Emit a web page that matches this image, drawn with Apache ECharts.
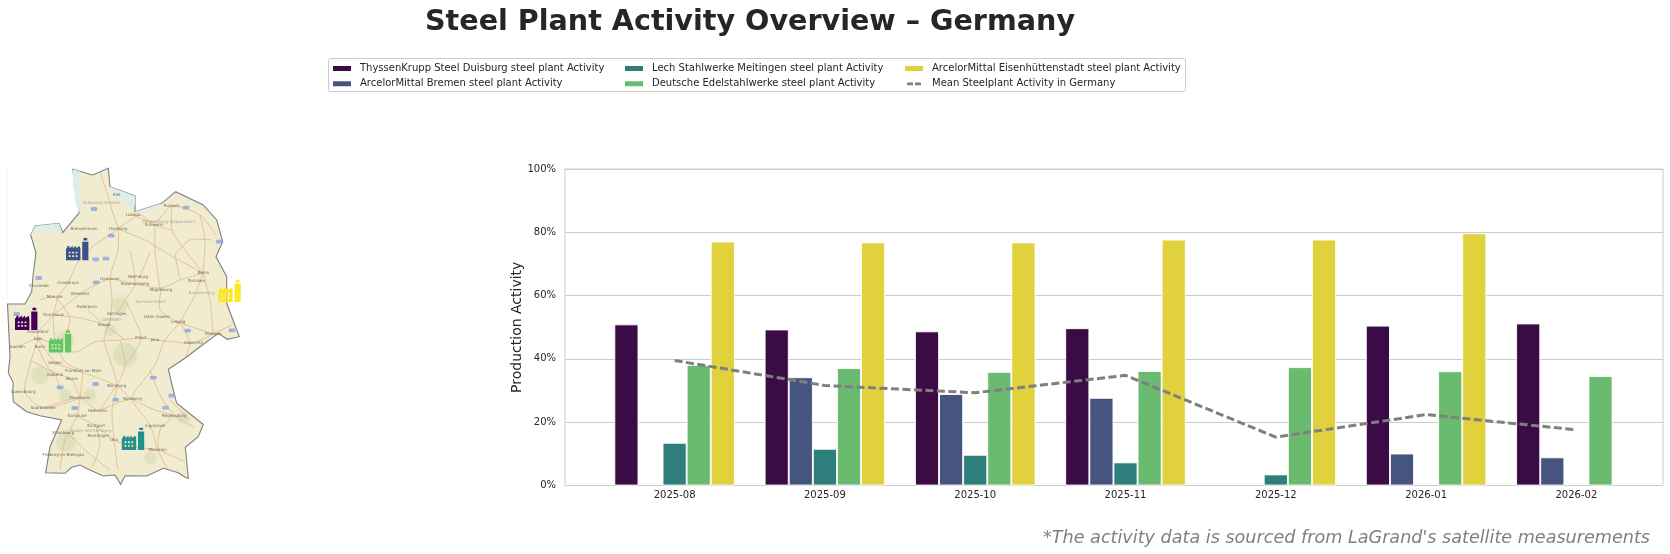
<!DOCTYPE html>
<html>
<head>
<meta charset="utf-8">
<style>html,body{margin:0;padding:0;background:#fff}#c{width:1670px;height:554px}</style>
<script src="https://cdn.jsdelivr.net/npm/echarts@6/dist/echarts.min.js"></script>
</head>
<body>
<div id="c"></div>
<script>
const months = ['2025-08','2025-09','2025-10','2025-11','2025-12','2026-01','2026-02'];
const duisburg = [50.9,49.3,48.7,49.7,null,50.5,51.2];
const bremen = [null,34.2,28.9,27.7,null,10.1,8.9];
const lech = [13.5,11.6,9.7,7.3,3.5,null,null];
const edelstahl = [38.1,37.1,35.9,36.2,37.4,36.1,34.6];
const eisen = [77.1,76.8,76.8,77.7,77.7,79.7,null];
const meanActivity = [39.5,31.6,29.3,34.8,15.3,22.4,17.6];

const plantNames = ['ThyssenKrupp Steel Duisburg steel plant Activity','ArcelorMittal Bremen steel plant Activity','Lech Stahlwerke Meitingen steel plant Activity','Deutsche Edelstahlwerke steel plant Activity','ArcelorMittal Eisenhüttenstadt steel plant Activity'];
const meanName = 'Mean Steelplant Activity in Germany';
const barColors = ['#3b0b45','#46557f','#2e7f7b','#6abb6f','#e1d13c'];
const iconColors = ['#440154','#3b528b','#21918c','#5ec962','#fde725'];

// map sheet, in units of the map panel
const plantSites = [[26.2,318.8],[77.2,249],[133,438.7],[60,341.3],[229.5,290.8]];
const outline = [[72.7,169.3],[92.7,175],[108.3,168.3],[110,186.7],[135,196],[135,211.7],[161.7,203.3],[175.7,191.7],[203.3,205],[216.7,220],[222.7,241.7],[216,256.7],[226.7,276.7],[226.7,303.3],[231.7,316.7],[239.3,336.7],[227.3,339.3],[218.3,333.3],[200,346.7],[185,358.3],[168.3,369.3],[173.3,390],[176.7,403.3],[203.3,424.5],[198.3,436.7],[185.3,447.3],[188.3,478.3],[185,477.3],[178.3,472.7],[163.3,468.3],[146.7,476],[125,475.7],[120.7,484.3],[115,475],[103.3,476],[90,470],[80,465],[71.7,467.3],[65,473.3],[45.7,472.7],[50,446.7],[61.7,420],[40,415.7],[26.7,411.7],[13.3,401.7],[12.7,390],[13.3,383],[8.3,373],[10,356.7],[7.5,304],[25,304],[31.7,291.7],[33.3,273],[36,253],[30.7,235],[35,226],[59.3,223.3],[62.7,232.7],[79.3,212.7]];
const seaPatches = [
  [[72.7,169.3],[80,171.5],[79,195],[82,204],[79.3,212.7],[76,205],[73,185]],
  [[30.7,235],[35,226],[59.3,223.3],[62,232],[50,229],[37,232]],
  [[110,186.7],[135,196],[135,204],[132,211],[127,201],[112,194]],
  [[135,211.7],[161.7,203.3],[152,209],[138,214]]
];
const terrain = [[120,305,16],[125,355,24],[66,442,20],[40,375,18],[65,340,18],[65,395,12],[90,395,12],[183,418,12],[110,330,12],[150,458,12]];
const cities = {
  'Kiel':[116.7,195],'Lübeck':[133,215],'Rostock':[171.7,205.7],'Schwerin':[154,225],'Hamburg':[118.3,229],'Bremerhaven':[84,229],
  'Berlin':[203.3,273],'Potsdam':[196.7,280.7],'Hannover':[110,279.3],'Wolfsburg':[138,277.3],'Braunschweig':[135,284],'Magdeburg':[161,290],
  'Osnabrück':[68,283.3],'Enschede':[39,285.7],'Münster':[55,296.7],'Bielefeld':[80,294],'Paderborn':[86.7,306.7],'Göttingen':[116.7,314.3],
  'Kassel':[104,325],'Halle (Saale)':[156.7,316.7],'Leipzig':[178.3,322.3],'Dortmund':[53.3,315],'Düsseldorf':[38,331.7],'Köln':[38.3,339],
  'Bonn':[40,347.3],'Aachen':[17.3,346.7],'Erfurt':[141,337.7],'Jena':[155,340],'Chemnitz':[193.3,342.7],'Dresden':[213.3,334],
  'Frankfurt am Main':[83.3,370.7],'Siegen':[55,362.7],'Koblenz':[55,375],'Mainz':[71.7,379.3],'Luxembourg':[23,392],'Mannheim':[80,397.7],
  'Würzburg':[116.7,385.7],'Nürnberg':[132.3,398.7],'Saarbrücken':[43.3,407.7],'Karlsruhe':[77.3,416],'Heilbronn':[97.3,410.7],'Regensburg':[174,416],
  'Stuttgart':[96,426],'Ingolstadt':[155,426],'München':[157.7,450],'Strasbourg':[63.3,433.3],'Reutlingen':[98.3,436],'Ulm':[114.3,440],'Freiburg im Breisgau':[63.3,455]
};
const regionLabels = [['GERMANY',111.7,320],['Schleswig-Holstein',101.7,203],['Mecklenburg-Vorpommern',169,222],['Brandenburg',201.7,293.3],['Sachsen-Anhalt',150.7,301.7],['Baden-Württemberg',91,431]];
const roads = [
  [[118,229],[105,238],[92,247],[78,262],[68,283],[58,297],[53,315],[38,332],[38,339]],
  [[100,172],[106,190],[112,210],[118,229],[118,250],[112,270],[110,279],[112,300],[110,320],[104,340],[110,360],[117,385],[112,410],[114,440],[118,470]],
  [[53,315],[70,302],[80,294],[95,285],[110,279],[135,284],[161,288],[180,280],[203,273]],
  [[17,347],[38,339],[55,345],[75,352],[95,342],[120,340],[141,338],[155,340],[175,342],[193,343],[213,334],[232,325]],
  [[203,273],[195,295],[180,322],[165,340],[155,365],[140,385],[132,399],[150,425],[158,450],[168,470]],
  [[38,339],[55,362],[75,370],[90,375],[117,386],[132,399],[155,410],[174,416],[195,428]],
  [[83,371],[80,398],[77,416],[65,440],[60,470]],
  [[77,416],[96,426],[114,440],[135,447],[158,450],[185,462]],
  [[118,229],[145,240],[170,255],[203,273]],
  [[172,206],[172,230],[185,250],[203,273]],
  [[133,215],[155,222],[172,206],[200,215],[216,235]],
  [[203,273],[210,300],[213,334]],
  [[161,290],[160,310],[178,322],[195,328],[213,334]],
  [[38,347],[50,370],[72,380],[80,398]],
  [[38,339],[30,365],[25,392],[43,408],[80,398]],
  [[53,315],[55,340],[65,362],[83,371]],
  [[53,315],[80,318],[104,325],[125,340]],
  [[43,408],[80,398],[97,410],[120,402],[132,399]],
  [[118,229],[140,215],[154,225],[172,230]],
  [[155,225],[155,250],[160,290]],
  [[130,250],[135,284],[125,300],[117,314]],
  [[200,215],[205,240],[203,273]],
  [[212,240],[190,240],[175,255]],
  [[180,322],[190,343],[185,358]],
  [[120,340],[125,365],[117,386]],
  [[150,370],[160,395],[174,416]],
  [[174,416],[160,430],[158,450]],
  [[96,426],[100,445],[92,468]],
  [[65,430],[85,450],[110,470]],
  [[125,300],[141,338],[125,365]],
  [[40,300],[55,297],[70,320],[60,345]],
  [[30,360],[55,375],[60,390]],
  [[175,255],[180,280]],
  [[150,252],[140,277]],
  [[88,310],[104,325]],
  [[100,410],[117,385]],
  [[170,400],[190,420]]
];
const shields = [[94,209],[186,207.7],[219.3,241.7],[111.3,235.7],[95.7,259.3],[106,258.7],[38.7,278],[96.3,282.3],[16.7,314],[187.7,330.7],[232,330.3],[153.3,377.7],[171.7,395.7],[95.7,384],[60,387.3],[115.7,399.7],[74.7,408],[165.7,407.7]];
const mapFrame = [[7,300],[7,168],[240,168]];

const FACTORY = 'path://M0 100L0 50L6 42L6 37L15 37L15 47L30 36L30 47L44 36L44 47L60 37L63 50L63 100Z' +
  'M12 62L12 70L20 70L20 62ZM27 62L27 70L35 70L35 62ZM42 62L42 70L50 70L50 62Z' +
  'M12 78L12 86L20 86L20 78ZM27 78L27 86L35 86L35 78ZM42 78L42 86L50 86L50 78Z' +
  'M71 100L71 18L98 18L98 100ZM76 12L76 3Q84 -2 93 3L93 12Z';
const DASHES = 'path://M0 0L20 0ZM0 10L20 10ZM0 3.2H8.6V7.2H0ZM11.4 3.2H20V7.2H11.4Z';

const FONT = 'DejaVu Sans';
const bar = (name, values, i) => ({
  name, type: 'bar', xAxisIndex: 1, yAxisIndex: 1, data: values, barWidth: 24.1, barGap: 0,
  itemStyle: {color: barColors[i], borderColor: '#fff', borderWidth: 0.9}, silent: true, z: 3
});
const legendBase = {
  orient: 'vertical', padding: 0, itemWidth: 20, itemHeight: 7, itemGap: 5.2, icon: 'rect',
  textStyle: {fontFamily: FONT, fontSize: 10, color: '#262626', padding: [0,0,0,3]}, selectedMode: false
};
const polyRender = (points, style) => (params, api) => ({
  type: 'polygon', shape: {points: points.map(p => api.coord(p))}, style
});
const cityList = Object.keys(cities).map(n => ({name: n, value: cities[n]}));

const option = {
  animation: false,
  backgroundColor: '#fff',
  textStyle: {fontFamily: FONT},
  title: [
    {text: 'Steel Plant Activity Overview – Germany', left: 745, top: 3, textAlign: 'center',
     textStyle: {fontFamily: FONT, fontWeight: 'bold', fontSize: 28.6, color: '#262626'}},
    {text: "*The activity data is sourced from LaGrand's satellite measurements", left: 1645, top: 524, textAlign: 'right',
     textStyle: {fontFamily: FONT, fontStyle: 'italic', fontWeight: 'normal', fontSize: 17.6, color: '#7f7f7f'}}
  ],
  legend: [
    Object.assign({left: 331, top: 63.5, data: plantNames.slice(0,2)}, legendBase),
    Object.assign({left: 623, top: 63.5, data: plantNames.slice(2,4)}, legendBase),
    Object.assign({left: 903, top: 63.5, data: [plantNames[4], {name: meanName, icon: DASHES}]}, legendBase)
  ],
  graphic: [{type: 'rect', left: 326, top: 56, shape: {width: 857, height: 33, r: 2}, style: {fill: 'none', stroke: '#cccccc', lineWidth: 1}, silent: true, z: -1}],
  grid: [
    {left: 565, top: 169, width: 1098, height: 316.5, show: true, borderColor: '#cccccc', borderWidth: 1, backgroundColor: '#fff'},
    {left: 599.45, top: 169, width: 1052.1, height: 316.5},
    {left: 0, top: 160, width: 240, height: 330}
  ],
  xAxis: [
    {gridIndex: 0, type: 'value', min: 0, max: 1, show: false},
    {gridIndex: 1, type: 'category', data: months, axisLine: {show: false}, axisTick: {show: false},
     axisLabel: {fontFamily: FONT, fontSize: 10, color: '#262626', margin: 5, interval: 0}},
    {gridIndex: 2, type: 'value', min: 0, max: 240, show: false}
  ],
  yAxis: [
    {gridIndex: 0, type: 'value', min: 0, max: 100, interval: 20, name: 'Production Activity', nameLocation: 'middle', nameGap: 41, nameMoveOverlap: false,
     nameTextStyle: {fontFamily: FONT, fontSize: 14, color: '#262626'},
     axisLine: {show: false}, axisTick: {show: false}, splitLine: {lineStyle: {color: '#cccccc', width: 1}},
     axisLabel: {formatter: '{value}%', fontFamily: FONT, fontSize: 10, color: '#262626', margin: 9}},
    {gridIndex: 1, type: 'value', min: 0, max: 100, show: false},
    {gridIndex: 2, type: 'value', min: 160, max: 490, inverse: true, show: false}
  ],
  series: [
    bar(plantNames[0], duisburg, 0),
    bar(plantNames[1], bremen, 1),
    bar(plantNames[2], lech, 2),
    bar(plantNames[3], edelstahl, 3),
    bar(plantNames[4], eisen, 4),
    {name: meanName, type: 'line', xAxisIndex: 1, yAxisIndex: 1, data: meanActivity, symbol: 'none', silent: true, z: 5,
     itemStyle: {color: '#7f7f7f'}, lineStyle: {color: '#7f7f7f', width: 3, type: [8,3.5]}},

    {type: 'custom', xAxisIndex: 2, yAxisIndex: 2, data: [0], silent: true, z: 1, clip: false,
     renderItem: (p, api) => ({type: 'polyline', shape: {points: mapFrame.map(q => api.coord(q))}, style: {stroke: '#f5f5f5', fill: 'none', lineWidth: 1}})},
    {type: 'custom', xAxisIndex: 2, yAxisIndex: 2, data: [0], silent: true, z: 2, clip: false,
     renderItem: polyRender(outline, {fill: '#f1ebcf', stroke: '#7c8180', lineWidth: 1.1})},
    {type: 'scatter', xAxisIndex: 2, yAxisIndex: 2, data: terrain, symbolSize: d => d[2], silent: true, z: 2,
     itemStyle: {color: 'rgba(190,200,150,0.3)', shadowBlur: 9, shadowColor: 'rgba(190,200,150,0.55)'}},
    {type: 'custom', xAxisIndex: 2, yAxisIndex: 2, data: seaPatches.map((_, i) => i), silent: true, z: 2, clip: false,
     renderItem: (p, api) => ({type: 'polygon', shape: {points: seaPatches[api.value(0)].map(q => api.coord(q))}, style: {fill: '#dcedec'}})},
    {type: 'custom', xAxisIndex: 2, yAxisIndex: 2, data: roads.map((_, i) => i), silent: true, z: 2, clip: false,
     renderItem: (p, api) => ({type: 'polyline', shape: {points: roads[api.value(0)].map(q => api.coord(q)), smooth: 0.25},
       style: {stroke: 'rgba(222,160,115,0.72)', fill: 'none', lineWidth: 0.8}})},
    {type: 'scatter', xAxisIndex: 2, yAxisIndex: 2, data: shields, symbol: 'roundRect', symbolSize: [6.5,3.8], silent: true, z: 2,
     itemStyle: {color: '#86a5e4'}},
    {type: 'scatter', xAxisIndex: 2, yAxisIndex: 2, data: cityList, symbolSize: 0, silent: true, z: 2,
     label: {show: true, position: 'inside', formatter: '{b}', fontFamily: FONT, fontSize: 4, color: '#4c4a42'}},
    {type: 'scatter', xAxisIndex: 2, yAxisIndex: 2, data: regionLabels.map(r => ({name: r[0], value: [r[1], r[2]]})), symbolSize: 0, silent: true, z: 2,
     label: {show: true, position: 'inside', formatter: '{b}', fontFamily: FONT, fontSize: 4, color: '#98978a'}},
    {type: 'scatter', xAxisIndex: 2, yAxisIndex: 2, symbol: FACTORY, symbolSize: 22.4, silent: true, z: 4,
     data: plantSites.map((s, i) => ({value: s, itemStyle: {color: iconColors[i], opacity: 1}}))}
  ]
};
const chart = echarts.init(document.getElementById('c'), null, {renderer: 'canvas'});
chart.setOption(option);
</script>
</body>
</html>
